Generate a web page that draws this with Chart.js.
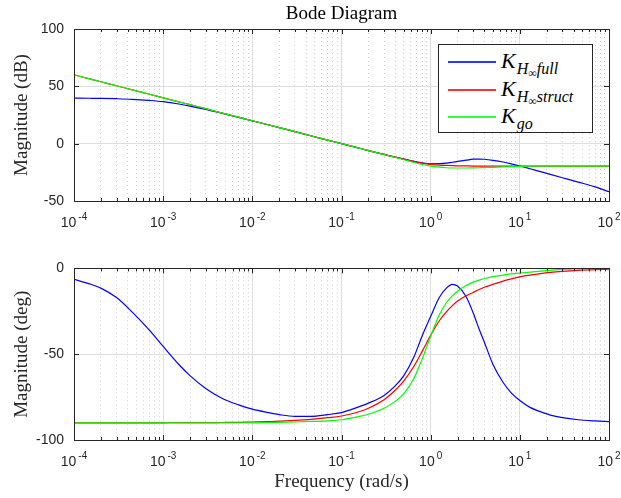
<!DOCTYPE html>
<html>
<head>
<meta charset="utf-8">
<script src="https://cdn.jsdelivr.net/npm/chart.js@4.4.1/dist/chart.umd.min.js"></script>
<style>
  html, body { margin: 0; padding: 0; background: #fff; }
  #page { position: relative; width: 621px; height: 498px; overflow: hidden; }
  .box { position: absolute; left: 0; width: 621px; }
  #legend {
    position: absolute; left: 438px; top: 44px; width: 155px; height: 89px;
    box-sizing: border-box; border: 1px solid #262626; background: #fff;
  }
  #legend .row { position: absolute; left: 0; height: 28px; width: 100%; }
  #legend .ln { position: absolute; left: 9px; top: 13px; width: 48px; height: 2px; opacity: 0.8; }
  #legend .lab {
    position: absolute; left: 62px; top: 0; white-space: nowrap;
    font-family: "Liberation Serif", serif; font-size: 22px; line-height: 26px; color: #000;
  }
  #legend .sb { font-size: 16px; font-style: italic; position: relative; top: 6px; margin-left: 1px; }
  #legend .ss { font-size: 12px; font-style: normal; position: relative; top: 3px; }
</style>
</head>
<body>
<div id="page">
  <div class="box" style="top:0;height:250px"><canvas id="mag" width="621" height="250"></canvas></div>
  <div class="box" style="top:250px;height:248px"><canvas id="phase" width="621" height="248"></canvas></div>
  <div id="legend">
    <div class="row" style="top:3px"><span class="ln" style="background:#0000ff"></span><span class="lab"><i>K</i><span class="sb">H<span class="ss">∞</span>full</span></span></div>
    <div class="row" style="top:31px"><span class="ln" style="background:#ff0000"></span><span class="lab"><i>K</i><span class="sb">H<span class="ss">∞</span>struct</span></span></div>
    <div class="row" style="top:58px"><span class="ln" style="background:#00ff00"></span><span class="lab"><i>K</i><span class="sb">go</span></span></div>
  </div>
</div>
<script>
// frequences (rad/s)
const freq = [1e-4, 1.5e-4, 2e-4, 3e-4, 4.5e-4, 7e-4,
              1e-3, 1.5e-3, 2e-3, 3e-3, 4.5e-3, 7e-3,
              1e-2, 1.5e-2, 2e-2, 3e-2, 4.5e-2, 7e-2,
              0.1, 0.15, 0.2, 0.3, 0.4, 0.5, 0.65, 0.8,
              1, 1.25, 1.5, 1.75, 2, 2.5, 3, 3.5, 4, 5, 6.5, 8,
              10, 13, 17, 22, 30, 45, 70, 100];

// magnitude (dB)
const magFull = [39.7, 39.6, 39.5, 39.2, 38.7, 37.7,
                 36.6, 34.6, 32.8, 29.9, 26.6, 22.9,
                 19.9, 16.5, 14, 10.5, 6.9, 3.1,
                 0, -3.5, -6, -9.4, -11.8, -13.5, -15.4, -16.7,
                 -17.5, -17.4, -16.9, -16.2, -15.5, -14.4, -13.5, -13.4, -13.6, -14.5, -16, -17.6,
                 -19.5, -21.9, -24.4, -26.8, -29.7, -33.5, -37.7, -41.9];
const magStruct = [60, 56.5, 54, 50.5, 46.9, 43.1,
                   40, 36.5, 34, 30.5, 26.9, 23.1,
                   20, 16.5, 14, 10.5, 6.9, 3.1,
                   0, -3.5, -6, -9.4, -11.8, -13.5, -15.5, -16.9,
                   -18, -18.7, -19, -19.2, -19.3, -19.4, -19.5, -19.5, -19.5, -19.5, -19.5, -19.5,
                   -19.5, -19.5, -19.5, -19.5, -19.5, -19.5, -19.5, -19.5];
const magGo = [60, 56.5, 54, 50.5, 46.9, 43.1,
               40, 36.5, 34, 30.5, 26.9, 23.1,
               20, 16.5, 14, 10.5, 6.9, 3.1,
               0, -3.5, -6, -9.5, -12, -14, -16.4, -18.2,
               -19.6, -20.5, -21, -21.2, -21.2, -21.2, -21.1, -21, -20.9, -20.6, -20.3, -20,
               -19.8, -19.7, -19.6, -19.5, -19.5, -19.5, -19.5, -19.5];

// phase (deg)
const phFull = [-6.4, -9, -11.5, -17, -25.5, -36,
                -45.5, -56, -62.5, -70, -75.5, -79.5,
                -82, -84, -85.2, -86.2, -86.2, -85.2,
                -84, -81, -78.5, -74, -68.5, -62.5, -51.5, -39.5,
                -28, -17, -11.5, -9.3, -10.3, -16.5, -26, -35.5, -43, -56, -66.5, -72.5,
                -77, -81, -83.5, -85.5, -87, -88.2, -88.9, -89.3];
const phStruct = [-90, -90, -90, -90, -90, -90,
                  -90, -89.9, -89.9, -89.9, -89.8, -89.7,
                  -89.5, -89.3, -89, -88.6, -88, -87,
                  -86, -83.8, -81.5, -76.5, -71, -65.5, -57, -48.5,
                  -39, -30.5, -25.3, -21.7, -19, -16, -14, -12.3, -11, -9.3, -7.4, -6.1,
                  -4.9, -3.9, -3, -2.3, -1.7, -1.1, -0.7, -0.5];
const phGo = [-90, -90, -90, -90, -90, -90,
              -90, -90, -90, -90, -90, -90,
              -90, -89.8, -89.7, -89.5, -89.2, -88.8,
              -88.2, -86.5, -85, -81.5, -77.5, -73, -64, -53,
              -39.5, -27, -20, -16, -13.3, -10, -8, -6.8, -5.9, -4.8, -3.9, -3.2,
              -2.7, -2.2, -1.6, -1.1, -0.6, -0.3, -0.1, 0];

// axes
const decadeTicks = [1e-4, 1e-3, 1e-2, 1e-1, 1, 10, 100];
const decadeExps = ["-4", "-3", "-2", "-1", "0", "1", "2"];
const minorTicks = decadeTicks.slice(0, -1).flatMap(d => [2, 3, 4, 5, 6, 7, 8, 9].map(m => m * d));
const magTicks = [-50, 0, 50, 100];
const phaseTicks = [-100, -50, 0];

const AXIS = "#262626";
const tickFont = { family: "Liberation Sans", size: 14 };
const serifFont = { family: "Liberation Serif", size: 19 };

// cadre + graduations vers l'intérieur (style MATLAB)
const framePlugin = {
  id: "frame",
  afterDatasetsDraw(chart) {
    const { ctx, chartArea: a } = chart;
    const x = chart.scales.x, xm = chart.scales.xm, y = chart.scales.y;
    ctx.save();
    ctx.strokeStyle = AXIS;
    ctx.lineWidth = 1;
    ctx.beginPath();
    const vtick = (px, len) => {
      px = Math.round(px) + 0.5;
      ctx.moveTo(px, a.bottom); ctx.lineTo(px, a.bottom - len);
      ctx.moveTo(px, a.top); ctx.lineTo(px, a.top + len);
    };
    x.ticks.forEach(t => vtick(x.getPixelForValue(t.value), 5));
    xm.ticks.forEach(t => vtick(xm.getPixelForValue(t.value), 3));
    y.ticks.forEach(t => {
      const py = Math.round(y.getPixelForValue(t.value)) + 0.5;
      ctx.moveTo(a.left, py); ctx.lineTo(a.left + 5, py);
      ctx.moveTo(a.right, py); ctx.lineTo(a.right - 5, py);
    });
    ctx.stroke();
    ctx.strokeRect(Math.round(a.left) + 0.5, Math.round(a.top) + 0.5,
                   Math.round(a.right - a.left), Math.round(a.bottom - a.top));
    ctx.restore();
  },
  // libellés 10^n avec exposant, posés sur les graduations de l'axe x
  afterDraw(chart) {
    const { ctx, chartArea: a } = chart;
    const x = chart.scales.x;
    const big = '14px "Liberation Sans"', small = '10px "Liberation Sans"';
    ctx.save();
    ctx.fillStyle = AXIS;
    ctx.textAlign = "left";
    ctx.textBaseline = "alphabetic";
    x.ticks.forEach((t, i) => {
      const px = x.getPixelForValue(t.value);
      ctx.font = big;
      const w1 = ctx.measureText("10").width;
      ctx.font = small;
      const w2 = ctx.measureText(decadeExps[i]).width;
      const left = px - (w1 + 2 + w2) / 2;
      const base = a.bottom + 25.5;
      ctx.font = big;
      ctx.fillText("10", left, base);
      ctx.font = small;
      ctx.fillText(decadeExps[i], left + w1 + 2, base - 7);
    });
    ctx.restore();
  }
};

function series(values, color, order) {
  return {
    data: freq.map((f, i) => ({ x: f, y: values[i] })),
    borderColor: color,
    borderWidth: 1.2,
    pointRadius: 0,
    cubicInterpolationMode: "monotone",
    fill: false,
    order,
  };
}

function makeChart(id, sets, yMin, yMax, yTicks, yTitle, cfg) {
  return new Chart(document.getElementById(id), {
    type: "line",
    data: { datasets: sets },
    plugins: [framePlugin],
    options: {
      responsive: false,
      animation: false,
      layout: { padding: { top: cfg.padTop, right: 12, left: 0, bottom: 0 } },
      plugins: {
        legend: { display: false },
        tooltip: { enabled: false },
        title: cfg.title
          ? { display: true, text: cfg.title, fullSize: false, color: "#000",
              font: { ...serifFont, weight: "normal" }, padding: { top: 2.6, bottom: 3.6 } }
          : { display: false },
      },
      scales: {
        x: {
          type: "logarithmic", min: 1e-4, max: 100, position: "bottom",
          afterBuildTicks: s => { s.ticks = decadeTicks.map(v => ({ value: v })); },
          afterFit: s => { s.height = cfg.xHeight; s.paddingLeft = 0; s.paddingRight = 0; },
          ticks: { display: false, autoSkip: false },
          grid: { color: "#dedede", drawTicks: false },
          border: { display: false },
          title: cfg.xTitle
            ? { display: true, text: cfg.xTitle, color: AXIS, font: serifFont, padding: { top: 0, bottom: 4.6 } }
            : { display: false },
        },
        xm: {
          type: "logarithmic", min: 1e-4, max: 100, position: "bottom",
          afterBuildTicks: s => { s.ticks = minorTicks.map(v => ({ value: v })); },
          afterFit: s => { s.height = 0; s.paddingLeft = 0; s.paddingRight = 0; },
          ticks: { display: false },
          grid: { color: "#cdcdcd", drawTicks: false },
          border: { display: false, dash: [1, 3] },
        },
        y: {
          min: yMin, max: yMax,
          afterBuildTicks: s => { s.ticks = yTicks.map(v => ({ value: v })); },
          afterFit: s => { s.width = 74; },
          ticks: { padding: 10, color: AXIS, font: tickFont, callback: v => String(v) },
          grid: { color: "#dedede", drawTicks: false },
          border: { display: false },
          title: { display: true, text: yTitle, color: AXIS, font: serifFont, padding: { top: 10.3, bottom: 0 } },
        },
      },
    },
  });
}

makeChart("mag",
  [series(magFull, "#0000ff", 2), series(magStruct, "#ff0000", 1), series(magGo, "#00ff00", 0)],
  -50, 100, magTicks, "Magnitude (dB)",
  { padTop: 0, xHeight: 49, title: "Bode Diagram" });

makeChart("phase",
  [series(phFull, "#0000ff", 2), series(phStruct, "#ff0000", 1), series(phGo, "#00ff00", 0)],
  -100, 0, phaseTicks, "Magnitude (deg)",
  { padTop: 18, xHeight: 58, xTitle: "Frequency (rad/s)" });
</script>
</body>
</html>
